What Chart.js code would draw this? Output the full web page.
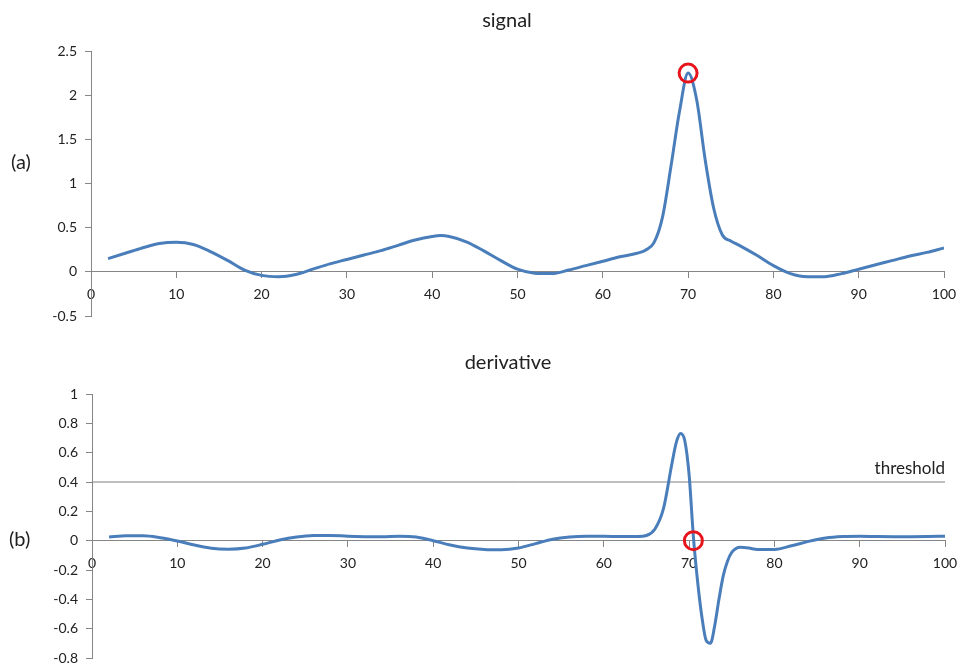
<!DOCTYPE html>
<html lang="en">
<head>
    <meta charset="UTF-8">
    <title>signal / derivative</title>
    <script src="https://cdn.jsdelivr.net/npm/chart.js"></script>
    <style>
        html, body { margin: 0; padding: 0; background: #fff; overflow: hidden; }
        body { width: 960px; height: 666px; position: relative; font-family: Lato, "Open Sans", sans-serif; color: #222; }
        .box { position: absolute; left: 0; width: 960px; }
        #topBox { top: 0; height: 333px; }
        #botBox { top: 330px; height: 340px; }
        .label { position: absolute; font-size: 20px; line-height: 20px; white-space: nowrap; }
        .title { width: 200px; text-align: center; }
    </style>
</head>
<body>
    <div class="box" id="topBox"><canvas id="signalChart"></canvas></div>
    <div class="box" id="botBox"><canvas id="derivChart"></canvas></div>

    <div class="label title" style="left: 407px; top: 9px;">signal</div>
    <div class="label title" style="left: 408px; top: 351px;">derivative</div>
    <div class="label" style="left: 11px; top: 151px;">(a)</div>
    <div class="label" style="left: 9px; top: 528px;">(b)</div>

    <script>
        // tick labels
        const xTicks = [0, 10, 20, 30, 40, 50, 60, 70, 80, 90, 100];
        const signalTicks = [-0.5, 0, 0.5, 1, 1.5, 2, 2.5];
        const derivTicks = [-0.8, -0.6, -0.4, -0.2, 0, 0.2, 0.4, 0.6, 0.8, 1];

        // (a) signal
        const signalX = [2, 4, 6, 8, 10, 12, 14, 16, 18, 20, 22, 24, 26, 28, 30, 32, 34, 36, 38, 40, 41, 42, 44, 46, 48, 50,
            52, 54, 56, 58, 60, 62, 64, 65, 66, 67, 68, 69, 70, 71, 72, 73, 74, 75, 76, 78, 80, 82, 84, 86, 88, 90,
            92, 94, 96, 98, 100];
        const signalY = [0.15, 0.21, 0.27, 0.32, 0.335, 0.31, 0.23, 0.13, 0.02, -0.04, -0.055, -0.03, 0.03, 0.09, 0.14, 0.19, 0.24, 0.30, 0.36, 0.40, 0.41, 0.40, 0.34, 0.24, 0.13, 0.03,
            -0.015, -0.02, 0.02, 0.07, 0.12, 0.17, 0.21, 0.245, 0.33, 0.62, 1.2, 1.82, 2.25, 1.95, 1.27, 0.72, 0.42, 0.35, 0.30, 0.19, 0.07, -0.02, -0.055, -0.055, -0.02, 0.03,
            0.08, 0.13, 0.18, 0.22, 0.27];

        // (b) derivative
        const derivX = [2, 4, 6, 8, 10, 12, 14, 16, 18, 20, 22, 24, 26, 28, 30, 32, 34, 36, 38, 40, 42, 44, 46, 48, 50,
            52, 54, 56, 58, 60, 62, 64, 65, 66, 67, 68, 68.5, 69, 69.5, 70, 70.5, 71, 71.5, 72, 72.5, 73, 73.5, 74, 74.5, 75,
            76, 77, 78, 80, 82, 84, 86, 88, 90, 92, 94, 96, 98, 100];
        const derivY = [0.025, 0.033, 0.033, 0.02, -0.002, -0.03, -0.052, -0.058, -0.05, -0.025, 0.005, 0.025, 0.035, 0.036, 0.03, 0.027, 0.026, 0.03, 0.025, 0.0, -0.03, -0.05, -0.06, -0.062, -0.05,
            -0.02, 0.01, 0.025, 0.03, 0.03, 0.028, 0.028, 0.035, 0.08, 0.22, 0.53, 0.67, 0.73, 0.68, 0.45, 0.03, -0.28, -0.52, -0.68, -0.70, -0.58, -0.40, -0.24, -0.14, -0.08,
            -0.045, -0.05, -0.06, -0.06, -0.035, -0.005, 0.018, 0.028, 0.03, 0.028, 0.027, 0.027, 0.028, 0.03];

        // markers and threshold
        const peakX = [70], peakY = [2.25];
        const crossX = [70.5], crossY = [0];
        const thresholdX = [0, 100], thresholdY = [0.4, 0.4];

        const blue = '#4a7ebb';
        const red = '#e8141c';
        const axisGray = '#868686';
        const tickFont = { family: 'Lato', size: 14 };

        function pts(xs, ys) {
            return xs.map((x, i) => ({ x: x, y: ys[i] }));
        }

        function setTicks(list) {
            return scale => { scale.ticks = list.map(v => ({ value: v })); };
        }

        function makeOptions(yTicks, yWidth, padding) {
            return {
                responsive: true,
                maintainAspectRatio: false,
                animation: false,
                layout: { padding: padding },
                plugins: { legend: { display: false }, tooltip: { enabled: false }, title: { display: false } },
                scales: {
                    x: {
                        type: 'linear',
                        position: { y: 0 },
                        min: 0, max: 100,
                        afterBuildTicks: setTicks(xTicks),
                        // the axis sits inside the plot, so it should not push the plot edges
                        afterFit: scale => { scale.paddingLeft = 0; scale.paddingRight = 0; },
                        grid: { drawOnChartArea: false, tickLength: 6, color: axisGray },
                        border: { color: axisGray },
                        ticks: { font: tickFont, color: '#222', padding: 8, maxRotation: 0, autoSkip: false }
                    },
                    y: {
                        min: yTicks[0], max: yTicks[yTicks.length - 1],
                        afterBuildTicks: setTicks(yTicks),
                        afterFit: scale => { scale.width = yWidth; scale.paddingTop = 0; scale.paddingBottom = 0; },
                        grid: { drawOnChartArea: false, tickLength: 6, color: axisGray },
                        border: { color: axisGray },
                        ticks: { font: tickFont, color: '#222', padding: 8, callback: v => String(v) }
                    }
                }
            };
        }

        function curve(data) {
            return {
                data: data, borderColor: blue, borderWidth: 3, pointRadius: 0,
                cubicInterpolationMode: 'monotone', fill: false, order: 1
            };
        }

        function marker(data) {
            return {
                data: data, showLine: false, pointRadius: 9, pointBorderWidth: 3,
                pointBorderColor: red, pointBackgroundColor: 'rgba(0,0,0,0)', clip: false, order: 0
            };
        }

        // writes "threshold" above the right end of the threshold line
        const thresholdLabel = {
            id: 'thresholdLabel',
            afterDatasetsDraw(chart) {
                const ctx = chart.ctx;
                const x = chart.scales.x.getPixelForValue(thresholdX[thresholdX.length - 1]);
                const y = chart.scales.y.getPixelForValue(thresholdY[thresholdY.length - 1]);
                ctx.save();
                ctx.font = '17px Lato';
                ctx.fillStyle = '#222';
                ctx.textAlign = 'right';
                ctx.textBaseline = 'alphabetic';
                ctx.fillText('threshold', x, y - 8);
                ctx.restore();
            }
        };

        new Chart(document.getElementById('signalChart'), {
            type: 'line',
            data: { datasets: [curve(pts(signalX, signalY)), marker(pts(peakX, peakY))] },
            options: makeOptions(signalTicks, 91, { left: 0, top: 51, right: 16, bottom: 17 })
        });

        new Chart(document.getElementById('derivChart'), {
            type: 'line',
            data: {
                datasets: [
                    curve(pts(derivX, derivY)),
                    marker(pts(crossX, crossY)),
                    { data: pts(thresholdX, thresholdY), borderColor: '#7f7f7f', borderWidth: 1, pointRadius: 0, order: 2 }
                ]
            },
            options: makeOptions(derivTicks, 92, { left: 0, top: 64, right: 15, bottom: 10 }),
            plugins: [thresholdLabel]
        });
    </script>
</body>
</html>
